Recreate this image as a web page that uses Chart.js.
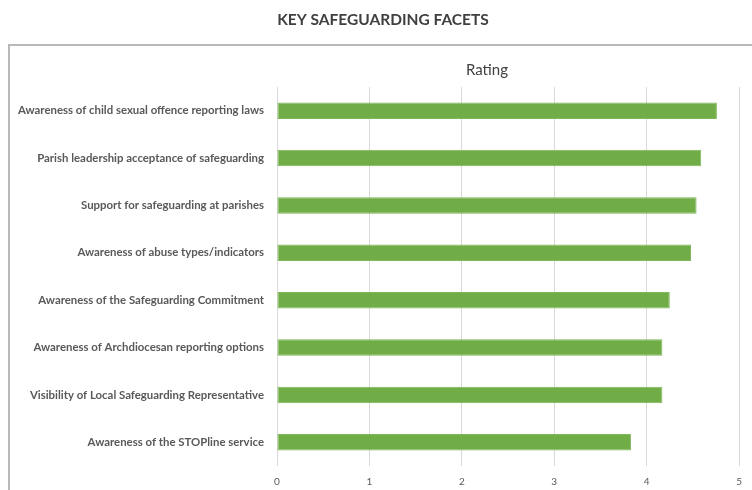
<!DOCTYPE html>
<html>
<head>
<meta charset="utf-8">
<script src="https://cdn.jsdelivr.net/npm/chart.js@4/dist/chart.umd.min.js"></script>
<style>
  html, body { margin: 0; padding: 0; background: #ffffff; }
  #wrap { position: relative; width: 752px; height: 490px; }
</style>
</head>
<body>
<div id="wrap"><canvas id="c" width="752" height="490"></canvas></div>
<script>
const chartTitle = "KEY SAFEGUARDING FACETS";
const seriesName = "Rating";
const categories = [
  "Awareness of child sexual offence reporting laws",
  "Parish leadership acceptance of safeguarding",
  "Support for safeguarding at parishes",
  "Awareness of abuse types/indicators",
  "Awareness of the Safeguarding Commitment",
  "Awareness of Archdiocesan reporting options",
  "Visibility of Local Safeguarding Representative",
  "Awareness of the STOPline service"
];
const ratings = [4.76, 4.59, 4.54, 4.48, 4.25, 4.17, 4.17, 3.83];
const axisMin = 0;
const axisMax = 5;
const axisStep = 1;

const decorPlugin = {
  id: 'decor',
  beforeDraw(chart) {
    const ctx = chart.ctx;
    ctx.save();
    ctx.fillStyle = '#ffffff';
    ctx.fillRect(0, 0, chart.width, chart.height);
    // outer frame
    ctx.strokeStyle = '#b8b8b8';
    ctx.lineWidth = 2;
    ctx.strokeRect(9, 45, 900, 600);
    // main title
    ctx.fillStyle = '#404040';
    ctx.font = 'bold 15.5px Lato, "Open Sans", sans-serif';
    ctx.textAlign = 'center';
    ctx.textBaseline = 'middle';
    ctx.fillText(chartTitle, 383, 20);
    // series title
    ctx.fillStyle = '#404040';
    ctx.font = '15px Lato, "Open Sans", sans-serif';
    ctx.fillText(seriesName, 487, 70);
    ctx.restore();
  }
};

new Chart(document.getElementById('c'), {
  type: 'bar',
  data: {
    labels: categories,
    datasets: [{
      label: seriesName,
      data: ratings,
      backgroundColor: '#70AD47',
      borderColor: '#7fb85a',
      borderWidth: 1,
      borderSkipped: false,
      categoryPercentage: 1.0,
      barPercentage: 0.35
    }]
  },
  options: {
    indexAxis: 'y',
    responsive: false,
    animation: false,
    devicePixelRatio: 1,
    layout: { padding: { left: 0, right: 10, top: 87, bottom: 0 } },
    plugins: {
      legend: { display: false },
      title: { display: false },
      tooltip: { enabled: false }
    },
    scales: {
      x: {
        min: axisMin,
        max: axisMax,
        ticks: {
          stepSize: axisStep,
          color: '#595959',
          font: { family: 'Lato, "Open Sans", sans-serif', size: 10 },
          padding: 10
        },
        grid: { color: '#d9d9d9', lineWidth: 1, drawTicks: false },
        border: { display: false },
        afterFit(scale) { scale.height = 24; }
      },
      y: {
        ticks: {
          color: '#595959',
          font: { family: 'Lato, "Open Sans", sans-serif', size: 11.4, weight: 'bold' },
          padding: 13,
          autoSkip: false
        },
        grid: { display: false, drawTicks: false },
        border: { display: false },
        afterFit(scale) { scale.width = 277; }
      }
    }
  },
  plugins: [decorPlugin]
});
</script>
</body>
</html>
